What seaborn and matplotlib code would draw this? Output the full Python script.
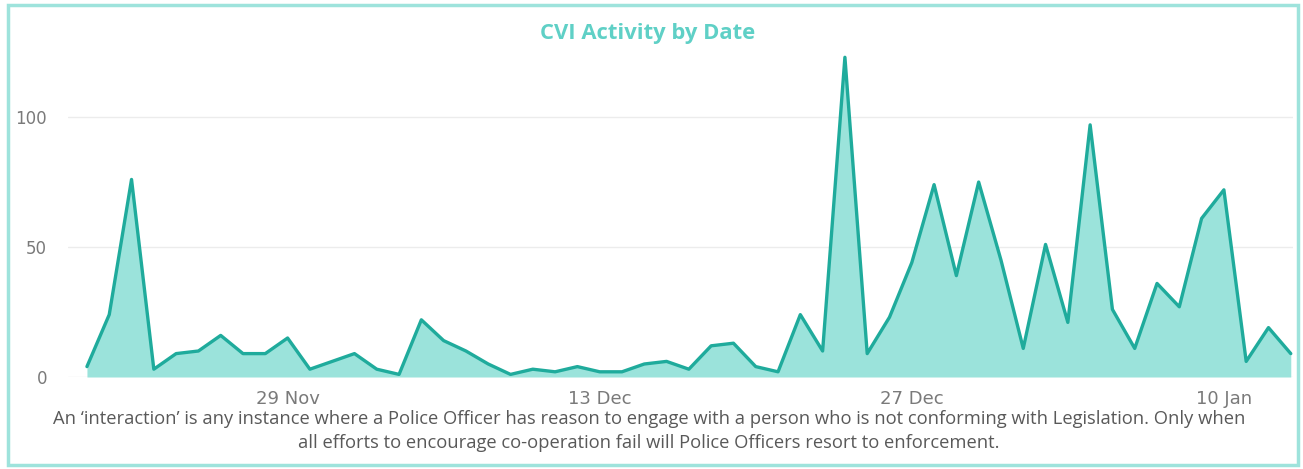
import pandas as pd
import matplotlib.pyplot as plt
import matplotlib.dates as mdates
from matplotlib.patches import Rectangle
import seaborn as sns

sns.set_theme(style="white")
plt.rcParams['font.family'] = ['Open Sans', 'DejaVu Sans']

# daily CVI interactions, 20 Nov to 13 Jan
start_date = '2020-11-20'
interactions = [4, 24, 76, 3, 9, 10, 16, 9, 9, 15,
                3, 6, 9, 3, 1, 22, 14, 10, 5, 1,
                3, 2, 4, 2, 2, 5, 6, 3, 12, 13,
                4, 2, 24, 10, 123, 9, 23, 44, 74, 39,
                75, 45, 11, 51, 21, 97, 26, 11, 36, 27,
                61, 72, 6, 19, 9]
tick_dates = ['2020-11-29', '2020-12-13', '2020-12-27', '2021-01-10']
y_ticks = [0, 50, 100]

df = pd.DataFrame({
    'date': pd.date_range(start_date, periods=len(interactions), freq='D'),
    'count': interactions,
})

line_col = '#1fab9c'
fill_col = '#9be3db'
frame_col = '#9ee3dc'

fig = plt.figure(figsize=(13.03, 4.69), dpi=100)
ax = fig.add_axes([68 / 1303, 92 / 469, 1225 / 1303, 327 / 469])

ax.fill_between(df['date'], 0, df['count'], color=fill_col, linewidth=0)
sns.lineplot(data=df, x='date', y='count', ax=ax, color=line_col, linewidth=2.4)

ax.set_xlim(df['date'].iloc[0] - pd.Timedelta(days=0.85), df['date'].iloc[-1] + pd.Timedelta(days=0.1))
ax.set_ylim(0, 125.8)
ax.set_yticks(y_ticks)
ax.set_xticks(pd.to_datetime(tick_dates))
ax.xaxis.set_major_formatter(mdates.DateFormatter('%-d %b'))
ax.grid(axis='y', color='#ececec', linewidth=1)
ax.set_axisbelow(True)
for s in ax.spines.values():
    s.set_visible(False)
ax.set_xlabel('')
ax.set_ylabel('')
ax.tick_params(axis='both', length=0, colors='#7a7a7a')
ax.tick_params(axis='y', pad=15, labelsize=12)
ax.tick_params(axis='x', pad=9, labelsize=13)
for lab in ax.get_yticklabels() + ax.get_xticklabels():
    lab.set_fontfamily(['DejaVu Sans'])

fig.text(0.497, 1 - 33 / 469, 'CVI Activity by Date', ha='center', va='center',
         fontsize=15.8, fontweight='bold', color='#5fd0c6')
fig.text(0.498, 1 - 431 / 469,
         'An \u2018interaction\u2019 is any instance where a Police Officer has reason to engage with a person who is not conforming with Legislation. Only when\n'
         'all efforts to encourage co-operation fail will Police Officers resort to enforcement.',
         ha='center', va='center', fontsize=13.2, color='#595959', linespacing=1.4)

# outer frame
fig.patches.append(Rectangle((7.5 / 1303, 4 / 469), 1290 / 1303, 460 / 469,
                             transform=fig.transFigure, fill=False,
                             edgecolor=frame_col, linewidth=2.5))

plt.savefig('out.png')
